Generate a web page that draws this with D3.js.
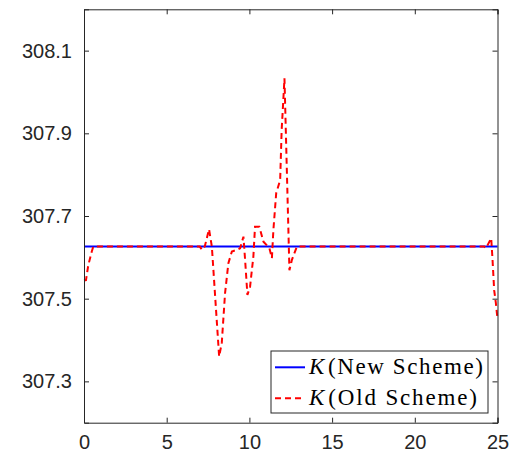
<!DOCTYPE html>
<html><head><meta charset="utf-8">
<script src="https://cdn.jsdelivr.net/npm/d3@7"></script>
<style>body{margin:0;background:#fff}</style>
</head><body><svg id="c" width="521" height="458"></svg>
<script>
const xTicks = [0, 5, 10, 15, 20, 25];
const yTicks = [307.3, 307.5, 307.7, 307.9, 308.1];
const newX = [0, 25];
const newY = [307.626, 307.626];
const oldX = [0, 0.12, 0.26, 0.47, 0.56, 1, 3, 5, 7.0, 7.14, 7.3, 7.48, 7.56, 7.73, 8.17, 8.33, 8.53, 8.73, 8.94, 9.24, 9.44, 9.64, 9.74, 9.88, 10.04, 10.24, 10.34, 10.6, 10.85, 11.21, 11.36, 11.45, 11.62, 11.86, 11.95, 12.04, 12.12, 12.42, 12.57, 12.87, 15, 20, 24.2, 24.3, 24.62, 24.7, 24.8, 24.9, 25];
const oldY = [307.544, 307.545, 307.581, 307.614, 307.626, 307.626, 307.626, 307.626, 307.626, 307.618, 307.626, 307.655, 307.668, 307.626, 307.36, 307.393, 307.514, 307.586, 307.614, 307.618, 307.622, 307.65, 307.594, 307.509, 307.529, 307.602, 307.674, 307.674, 307.638, 307.622, 307.598, 307.666, 307.755, 307.787, 307.908, 307.973, 308.033, 307.569, 307.594, 307.626, 307.626, 307.626, 307.626, 307.622, 307.646, 307.594, 307.52, 307.49, 307.451];
const legendLabels = ["(New Scheme)", "(Old Scheme)"];

const svg = d3.select("#c");
const L = 84, R = 497.5, T = 9.3, B = 422.7;
const x = d3.scaleLinear().domain([0, 25]).range([L, R]);
const y = d3.scaleLinear().domain([307.2, 308.2]).range([B, T]);
const axisCol = "#262626";

const font = "'Liberation Sans', Arial, Helvetica, sans-serif";
const line = d3.line().x(d => x(d[0])).y(d => y(d[1]));
svg.append("path").datum(newX.map((v, i) => [v, newY[i]]))
  .attr("d", line).attr("fill", "none").attr("stroke", "#0000ff").attr("stroke-width", 2);
svg.append("path").datum(oldX.map((v, i) => [v, oldY[i]]))
  .attr("d", line).attr("fill", "none").attr("stroke", "#ff0000").attr("stroke-width", 2)
  .attr("stroke-dasharray", "6,4");

const gx = svg.append("g").attr("transform", `translate(0,${B})`)
  .call(d3.axisBottom(x).tickValues(xTicks).tickSize(-5).tickPadding(12).tickFormat(d3.format("d")));
const gxt = svg.append("g").attr("transform", `translate(0,${T})`)
  .call(d3.axisTop(x).tickValues(xTicks).tickSize(-5).tickFormat(""));
const gy = svg.append("g").attr("transform", `translate(${L},0)`)
  .call(d3.axisLeft(y).tickValues(yTicks).tickSize(-5).tickPadding(12).tickFormat(d3.format(".1f")));
const gyr = svg.append("g").attr("transform", `translate(${R},0)`)
  .call(d3.axisRight(y).tickValues(yTicks).tickSize(-5).tickFormat(""));
[gx, gxt, gy, gyr].forEach(g => {
  g.select(".domain").attr("stroke", axisCol).attr("stroke-width", 1);
  g.selectAll(".tick line").attr("stroke", axisCol).attr("stroke-width", 1);
  g.selectAll("text").attr("fill", axisCol).style("font-family", font).style("font-size", "20px");
});
gx.selectAll("text").attr("dy", "0.71em");

const lg = svg.append("g");
const lx = 271, ly = 351, lw = 217, lh = 62;
lg.append("rect").attr("x", lx).attr("y", ly).attr("width", lw).attr("height", lh)
  .attr("fill", "#fff").attr("stroke", axisCol).attr("stroke-width", 1);
const rows = [{c: "#0000ff", d: null, yy: 367.3, w: 174}, {c: "#ff0000", d: "6,4", yy: 398.3, w: 168}];
rows.forEach((r, i) => {
  lg.append("line").attr("x1", 275).attr("x2", 305).attr("y1", r.yy).attr("y2", r.yy)
    .attr("stroke", r.c).attr("stroke-width", 2).attr("stroke-dasharray", r.d);
  const t = lg.append("text").attr("x", 309).attr("y", r.yy + 7)
    .attr("textLength", r.w).attr("lengthAdjust", "spacing")
    .style("font-family", "'Liberation Serif', 'DejaVu Serif', serif").style("font-size", "23px").attr("fill", "#000");
  t.append("tspan").style("font-style", "italic").text("K");
  t.append("tspan").attr("dx", 2).text(legendLabels[i]);
});
</script></body></html>
